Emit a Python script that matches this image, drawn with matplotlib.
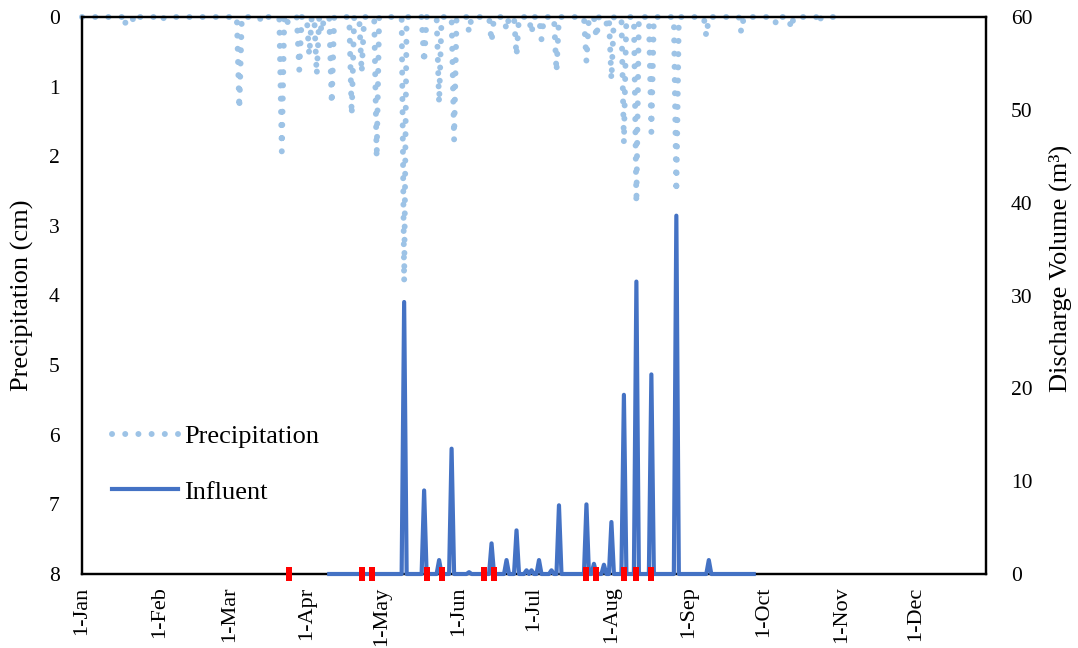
import matplotlib
matplotlib.use('Agg')
import numpy as np
import pandas as pd
import matplotlib.pyplot as plt
import matplotlib.dates as mdates
from matplotlib.ticker import FuncFormatter

plt.rcParams['font.family'] = ['Liberation Serif', 'DejaVu Serif']

# daily precipitation (cm), only rainy days listed, the rest are 0
rain_start = '2019-01-01'
rain_end = '2019-10-31'
rain_dates = ['2019-01-18', '2019-01-22', '2019-02-02', '2019-03-05', '2019-03-14',
              '2019-03-22', '2019-03-24', '2019-03-29', '2019-04-02', '2019-04-05',
              '2019-04-07', '2019-04-11', '2019-04-19', '2019-04-23', '2019-04-29',
              '2019-05-10', '2019-05-18', '2019-05-24', '2019-05-30', '2019-06-05',
              '2019-06-14', '2019-06-20', '2019-06-24', '2019-06-30', '2019-07-04',
              '2019-07-10', '2019-07-22', '2019-07-26', '2019-07-30', '2019-08-01',
              '2019-08-06', '2019-08-11', '2019-08-17', '2019-08-27', '2019-09-08',
              '2019-09-22', '2019-10-06', '2019-10-12', '2019-10-23']
rain_cm = [0.13, 0.08, 0.05, 1.32, 0.07,
           1.93, 0.11, 0.76, 0.55, 0.83,
           0.22, 1.25, 1.41, 0.80, 2.03,
           3.80, 0.66, 1.24, 1.77, 0.22,
           0.36, 0.19, 0.56, 0.24, 0.32,
           0.79, 0.64, 0.30, 0.10, 0.90,
           1.81, 2.68, 1.65, 2.52, 0.28,
           0.22, 0.10, 0.17, 0.10]

# daily influent discharge volume (m3)
flow_start = '2019-04-10'
flow_end = '2019-09-27'
flow_dates = ['2019-05-10', '2019-05-18', '2019-05-24', '2019-05-29', '2019-06-05',
              '2019-06-14', '2019-06-20', '2019-06-24', '2019-06-28', '2019-06-30',
              '2019-07-03', '2019-07-08', '2019-07-11', '2019-07-22', '2019-07-25',
              '2019-07-29', '2019-08-01', '2019-08-06', '2019-08-11', '2019-08-17',
              '2019-08-27', '2019-09-09']
flow_m3 = [29.3, 9.0, 1.5, 13.5, 0.2,
           3.3, 1.5, 4.7, 0.4, 0.4,
           1.5, 0.4, 7.4, 7.5, 1.1,
           1.0, 5.6, 19.3, 31.5, 21.5,
           38.6, 1.5]

# sampling days (red marks on the axis)
sample_dates = ['2019-03-25', '2019-04-23', '2019-04-27', '2019-05-19', '2019-05-25',
                '2019-06-11', '2019-06-15', '2019-07-22', '2019-07-26', '2019-08-06',
                '2019-08-11', '2019-08-17']


def daily(dates, vals, start, end):
    s = pd.Series(0.0, index=pd.date_range(start, end))
    s[pd.to_datetime(dates)] = vals
    return s


rain = daily(rain_dates, rain_cm, rain_start, rain_end)
flow = daily(flow_dates, flow_m3, flow_start, flow_end)
samples = pd.to_datetime(sample_dates)

W, H = 1078, 648
fig = plt.figure(figsize=(W / 100, H / 100), dpi=100)
ax1 = fig.add_axes([82 / W, 1 - 574 / H, (986 - 82) / W, (574 - 17) / H])
ax2 = ax1.twinx()

l1, = ax1.plot(rain.index, rain.values, color='#9DC3E6', lw=4.3,
               ls=(0, (0.01, 2.2)), dash_capstyle='round', clip_on=False,
               label='Precipitation')
l2, = ax2.plot(flow.index, flow.values, color='#4472C4', lw=3.0,
               solid_joinstyle='round', clip_on=False, label='Influent', zorder=3)
rect = [(-1, -2), (1, -2), (1, 2), (-1, 2), (-1, -2)]
ax2.plot(samples, np.zeros(len(samples)), ls='none', marker=rect, ms=9.4,
         mfc='#FF0000', mec='#FF0000', mew=0, clip_on=False, zorder=4)

ax1.set_ylim(8, 0)
ax2.set_ylim(0, 60)
ax1.set_yticks(range(0, 9))
ax2.set_yticks(range(0, 61, 10))

start = pd.Timestamp('2019-01-01')
ax1.set_xlim(start, start + pd.Timedelta(days=362))
ax1.xaxis.set_major_locator(mdates.MonthLocator())
ax1.xaxis.set_major_formatter(FuncFormatter(
    lambda x, p: f"{mdates.num2date(x).day}-{mdates.num2date(x):%b}"))

ax1.tick_params(axis='x', length=0, pad=9, labelsize=16, labelrotation=90)
ax1.tick_params(axis='y', length=0, pad=16, labelsize=15.5)
ax2.tick_params(axis='y', length=0, pad=18, labelsize=15.5)

for ax in (ax1, ax2):
    for sp in ax.spines.values():
        sp.set_linewidth(1.6)
        sp.set_color('black')

ax1.set_ylabel('Precipitation (cm)', fontsize=19, va='center')
ax1.yaxis.set_label_coords(-0.066, 0.5)
ax2.set_ylabel('Discharge Volume (m³)', fontsize=19, rotation=90, va='center')
ax2.yaxis.set_label_coords(1.082, 0.548)

ax2.legend([l1, l2], ['Precipitation', 'Influent'], loc='upper left',
           bbox_to_anchor=(112 / W, 1 - 425 / H), bbox_transform=fig.transFigure,
           frameon=False, fontsize=19, handlelength=2.5, handletextpad=0.25,
           labelspacing=1.2, borderpad=0, borderaxespad=0)

fig.savefig('out.png', dpi=100)
